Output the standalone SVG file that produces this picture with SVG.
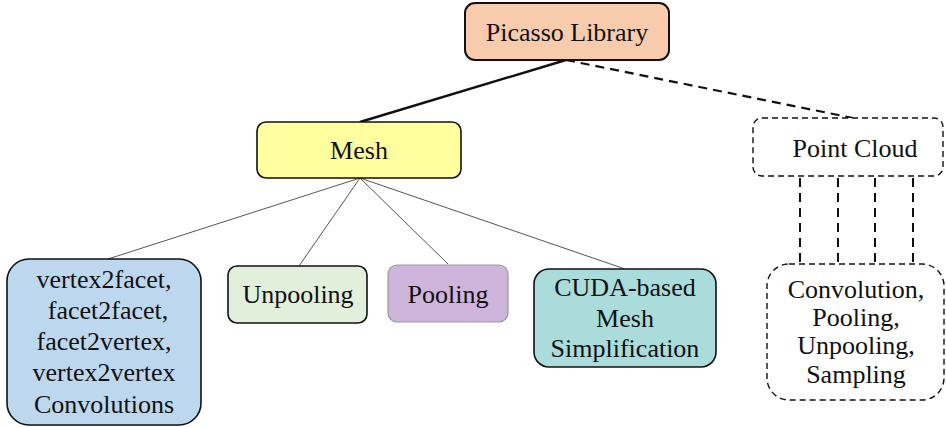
<svg xmlns="http://www.w3.org/2000/svg" width="946" height="427" viewBox="0 0 946 427">
<style>
text{font-size:26px;fill:#111;text-anchor:middle}
.box{stroke:#111;stroke-width:1.6}
.dash{fill:#fff;stroke:#111;stroke-width:1.4;stroke-dasharray:6 4}
.thin{stroke:#555;stroke-width:1;fill:none}
</style>
<g id="connectors">
<line x1="566" y1="60" x2="360" y2="122" stroke="#111" stroke-width="2.4"/>
<line x1="566" y1="60" x2="853" y2="118" stroke="#111" stroke-width="2.2" stroke-dasharray="9 6"/>
<line class="thin" x1="360" y1="178" x2="108" y2="259"/>
<line class="thin" x1="360" y1="178" x2="299" y2="266"/>
<line class="thin" x1="360" y1="178" x2="448" y2="264"/>
<line class="thin" x1="360" y1="178" x2="625" y2="269"/>
<g stroke="#111" stroke-width="2" stroke-dasharray="9 6">
<line x1="800" y1="178" x2="800" y2="268"/>
<line x1="838" y1="178" x2="838" y2="268"/>
<line x1="875" y1="178" x2="875" y2="268"/>
<line x1="913" y1="178" x2="913" y2="268"/>
</g>
</g>
<g font-family="Liberation Serif, Times New Roman, serif">
<g id="picasso">
<rect x="465" y="3" width="204" height="57" rx="10" fill="#f7cbac" stroke="#111" stroke-width="2"/>
<text x="567" y="41">Picasso Library</text>
</g>
<g id="mesh">
<rect class="box" x="257" y="122" width="204" height="56" rx="9" fill="#ffffa0"/>
<text x="359" y="159">Mesh</text>
</g>
<g id="point-cloud">
<rect class="dash" x="753" y="118" width="190" height="58" rx="9"/>
<text x="855" y="157">Point Cloud</text>
</g>
<g id="convolutions">
<rect class="box" x="7" y="259" width="194" height="166" rx="22" fill="#bdd7ee"/>
<text x="104" y="288">vertex2facet,</text>
<text x="108" y="319">facet2facet,</text>
<text x="104" y="350">facet2vertex,</text>
<text x="104" y="381">vertex2vertex</text>
<text x="104" y="413">Convolutions</text>
</g>
<g id="unpooling">
<rect class="box" x="228" y="266" width="139" height="57" rx="9" fill="#e2efda"/>
<text x="298" y="303">Unpooling</text>
</g>
<g id="pooling">
<rect x="388" y="265" width="120" height="57" rx="9" fill="#cfb5dc" stroke="#999" stroke-width="1.2"/>
<text x="448" y="303">Pooling</text>
</g>
<g id="cuda">
<rect class="box" x="534" y="269" width="182" height="98" rx="15" fill="#a9dcdb"/>
<text x="625" y="296">CUDA-based</text>
<text x="625" y="327">Mesh</text>
<text x="625" y="357">Simplification</text>
</g>
<g id="point-ops">
<rect class="dash" x="767" y="264" width="177" height="136" rx="22"/>
<text x="856" y="298">Convolution,</text>
<text x="856" y="326">Pooling,</text>
<text x="856" y="354">Unpooling,</text>
<text x="856" y="383">Sampling</text>
</g>
</g>
</svg>
